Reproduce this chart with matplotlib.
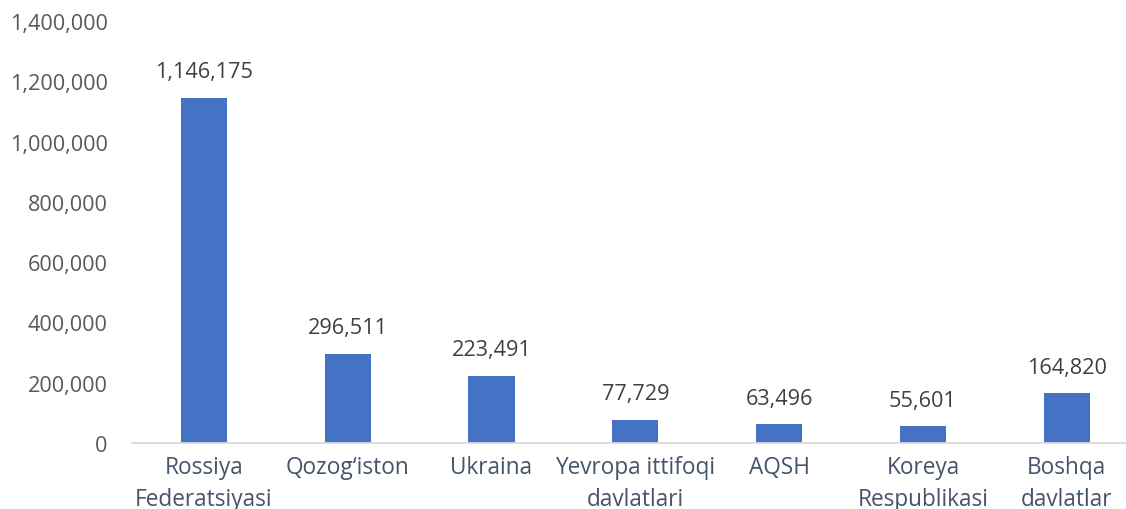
import matplotlib
matplotlib.use("Agg")
import matplotlib.pyplot as plt
from matplotlib.ticker import FuncFormatter, MultipleLocator

categories = ["Rossiya\nFederatsiyasi", "Qozog\u2018iston", "Ukraina",
              "Yevropa ittifoqi\ndavlatlari", "AQSH", "Koreya\nRespublikasi",
              "Boshqa\ndavlatlar"]
values = [1146175, 296511, 223491, 77729, 63496, 55601, 164820]

plt.rcParams['font.family'] = ['Open Sans', 'DejaVu Sans']

fig = plt.figure(figsize=(11.26, 5.10), dpi=100)
W, H = 1126, 510
left_px, right_px = 132, 132 + 7 * 143.8
top_px, bottom_px = 22, 444
ax = fig.add_axes([left_px / W, 1 - bottom_px / H,
                   (right_px - left_px) / W, (bottom_px - top_px) / H])

x = list(range(len(categories)))
bars = ax.bar(x, values, width=0.32, color="#4472C4", zorder=2)
ax.set_xlim(-0.5, len(categories) - 0.5)
ax.set_ylim(0, 1400000)
ax.yaxis.set_major_locator(MultipleLocator(200000))
ax.yaxis.set_major_formatter(FuncFormatter(lambda v, p: f"{int(v):,}"))

for rect, v in zip(bars, values):
    ax.annotate(f"{v:,}", (rect.get_x() + rect.get_width() / 2, v),
                xytext=(0, 11), textcoords="offset points",
                ha="center", va="bottom", fontsize=15.6, color="#404040")

ax.set_xticks(x)
ax.set_xticklabels(categories, fontsize=16.3, color="#44546A", linespacing=1.42)
ax.tick_params(axis="x", length=0, pad=9)
ax.tick_params(axis="y", length=0, pad=17.5, labelsize=15.6, labelcolor="#595959")

for s in ["top", "right", "left"]:
    ax.spines[s].set_visible(False)
ax.spines["bottom"].set_color("#D9D9D9")
ax.spines["bottom"].set_linewidth(1.3)

fig.savefig("out.png", dpi=100)
